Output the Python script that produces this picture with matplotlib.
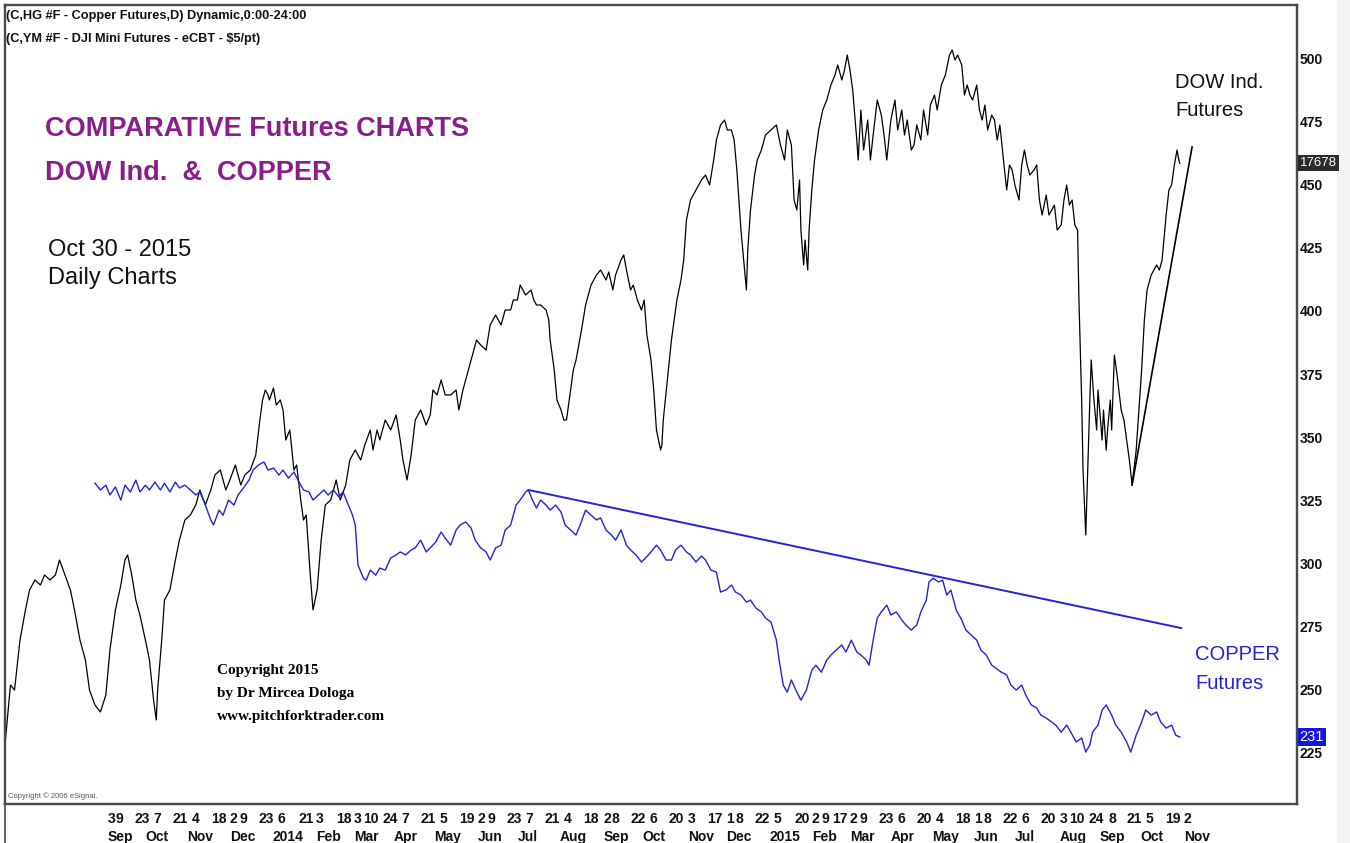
import matplotlib
matplotlib.use('Agg')
import matplotlib.pyplot as plt
import matplotlib.transforms as mtransforms
from matplotlib.patches import Rectangle
import pandas as pd

# ---- data ----
# DJI mini futures, daily (index points)
dow_dates = [
    '2013-06-20', '2013-06-24', '2013-06-27', '2013-07-01', '2013-07-05', '2013-07-08', '2013-07-12', '2013-07-16',
    '2013-07-19', '2013-07-23', '2013-07-27', '2013-07-30', '2013-08-03', '2013-08-07', '2013-08-10', '2013-08-14',
    '2013-08-18', '2013-08-21', '2013-08-25', '2013-08-29', '2013-09-02', '2013-09-05', '2013-09-09', '2013-09-13',
    '2013-09-16', '2013-09-18', '2013-09-21', '2013-09-24', '2013-09-27', '2013-10-01', '2013-10-04', '2013-10-07',
    '2013-10-09', '2013-10-10', '2013-10-13', '2013-10-15', '2013-10-19', '2013-10-23', '2013-10-26', '2013-10-30',
    '2013-11-03', '2013-11-07', '2013-11-10', '2013-11-14', '2013-11-18', '2013-11-21', '2013-11-25', '2013-11-29',
    '2013-12-02', '2013-12-06', '2013-12-10', '2013-12-13', '2013-12-17', '2013-12-21', '2013-12-24', '2013-12-26',
    '2013-12-28', '2013-12-30', '2013-12-31', '2014-01-03', '2014-01-05', '2014-01-08', '2014-01-10', '2014-01-12',
    '2014-01-15', '2014-01-18', '2014-01-20', '2014-01-23', '2014-01-25', '2014-01-27', '2014-01-30', '2014-02-01',
    '2014-02-04', '2014-02-07', '2014-02-10', '2014-02-14', '2014-02-18', '2014-02-21', '2014-02-25', '2014-02-28',
    '2014-03-04', '2014-03-08', '2014-03-11', '2014-03-15', '2014-03-17', '2014-03-20', '2014-03-22', '2014-03-26',
    '2014-03-30', '2014-04-03', '2014-04-06', '2014-04-08', '2014-04-11', '2014-04-14', '2014-04-17', '2014-04-21',
    '2014-04-25', '2014-04-28', '2014-04-30', '2014-05-03', '2014-05-06', '2014-05-09', '2014-05-13', '2014-05-17',
    '2014-05-19', '2014-05-22', '2014-05-25', '2014-05-28', '2014-05-30', '2014-06-01', '2014-06-04', '2014-06-08',
    '2014-06-11', '2014-06-15', '2014-06-19', '2014-06-22', '2014-06-26', '2014-06-28', '2014-07-01', '2014-07-03',
    '2014-07-07', '2014-07-11', '2014-07-13', '2014-07-15', '2014-07-18', '2014-07-22', '2014-07-24', '2014-07-25',
    '2014-07-28', '2014-07-30', '2014-08-02', '2014-08-04', '2014-08-06', '2014-08-08', '2014-08-11', '2014-08-13',
    '2014-08-15', '2014-08-17', '2014-08-20', '2014-08-24', '2014-08-28', '2014-08-31', '2014-09-04', '2014-09-06',
    '2014-09-09', '2014-09-11', '2014-09-15', '2014-09-17', '2014-09-19', '2014-09-22', '2014-09-24', '2014-09-27',
    '2014-09-30', '2014-10-02', '2014-10-04', '2014-10-07', '2014-10-09', '2014-10-11', '2014-10-14', '2014-10-15',
    '2014-10-16', '2014-10-19', '2014-10-22', '2014-10-24', '2014-10-26', '2014-10-29', '2014-10-31', '2014-11-02',
    '2014-11-05', '2014-11-09', '2014-11-13', '2014-11-16', '2014-11-19', '2014-11-22', '2014-11-24', '2014-11-27',
    '2014-11-30', '2014-12-02', '2014-12-05', '2014-12-07', '2014-12-09', '2014-12-12', '2014-12-14', '2014-12-16',
    '2014-12-17', '2014-12-19', '2014-12-22', '2014-12-24', '2014-12-27', '2014-12-30', '2015-01-03', '2015-01-07',
    '2015-01-10', '2015-01-13', '2015-01-15', '2015-01-18', '2015-01-20', '2015-01-22', '2015-01-24', '2015-01-25',
    '2015-01-27', '2015-01-28', '2015-01-30', '2015-01-31', '2015-02-02', '2015-02-04', '2015-02-07', '2015-02-10',
    '2015-02-13', '2015-02-16', '2015-02-19', '2015-02-21', '2015-02-24', '2015-02-26', '2015-02-28', '2015-03-02',
    '2015-03-04', '2015-03-07', '2015-03-08', '2015-03-10', '2015-03-12', '2015-03-15', '2015-03-17', '2015-03-19',
    '2015-03-22', '2015-03-25', '2015-03-27', '2015-03-29', '2015-04-01', '2015-04-04', '2015-04-06', '2015-04-09',
    '2015-04-11', '2015-04-13', '2015-04-16', '2015-04-18', '2015-04-20', '2015-04-23', '2015-04-25', '2015-04-28',
    '2015-04-30', '2015-05-03', '2015-05-05', '2015-05-08', '2015-05-11', '2015-05-14', '2015-05-16', '2015-05-18',
    '2015-05-20', '2015-05-23', '2015-05-25', '2015-05-27', '2015-05-29', '2015-05-31', '2015-06-03', '2015-06-05',
    '2015-06-07', '2015-06-09', '2015-06-11', '2015-06-14', '2015-06-16', '2015-06-18', '2015-06-20', '2015-06-23',
    '2015-06-25', '2015-06-27', '2015-06-29', '2015-07-01', '2015-07-04', '2015-07-06', '2015-07-08', '2015-07-10',
    '2015-07-12', '2015-07-15', '2015-07-17', '2015-07-19', '2015-07-21', '2015-07-24', '2015-07-26', '2015-07-28',
    '2015-07-30', '2015-08-01', '2015-08-04', '2015-08-06', '2015-08-08', '2015-08-10', '2015-08-12', '2015-08-14',
    '2015-08-16', '2015-08-17', '2015-08-19', '2015-08-20', '2015-08-22', '2015-08-23', '2015-08-25', '2015-08-26',
    '2015-08-28', '2015-08-30', '2015-08-31', '2015-09-03', '2015-09-04', '2015-09-06', '2015-09-07', '2015-09-09',
    '2015-09-10', '2015-09-12', '2015-09-14', '2015-09-17', '2015-09-19', '2015-09-21', '2015-09-23', '2015-09-25',
    '2015-09-28', '2015-09-30', '2015-10-02', '2015-10-04', '2015-10-06', '2015-10-09', '2015-10-11', '2015-10-13',
    '2015-10-15', '2015-10-17', '2015-10-20', '2015-10-22', '2015-10-24', '2015-10-26', '2015-10-28', '2015-10-29',
    '2015-10-30',
]
dow_values = [
    14770, 15070, 15045, 15295, 15445, 15545, 15595, 15570,
    15620, 15595, 15620, 15695, 15620, 15545, 15445, 15295,
    15195, 15045, 14970, 14935, 15020, 15245, 15445, 15570,
    15695, 15720, 15620, 15495, 15420, 15295, 15195, 14995,
    14895, 15045, 15295, 15495, 15545, 15695, 15795, 15895,
    15920, 15970, 16045, 15970, 16045, 16120, 16145, 16045,
    16095, 16170, 16070, 16120, 16145, 16220, 16395, 16495,
    16545, 16520, 16495, 16555, 16470, 16495, 16445, 16295,
    16345, 16145, 16170, 15995, 15895, 15920, 15620, 15445,
    15545, 15795, 15970, 15995, 16095, 15995, 16070, 16195,
    16245, 16195, 16270, 16345, 16245, 16345, 16295, 16395,
    16345, 16420, 16295, 16195, 16095, 16220, 16395, 16445,
    16370, 16420, 16545, 16520, 16595, 16520, 16520, 16545,
    16445, 16545, 16620, 16695, 16745, 16795, 16770, 16745,
    16870, 16920, 16870, 16945, 16945, 16995, 16995, 17070,
    17020, 17045, 16995, 16970, 16970, 16945, 16895, 16795,
    16645, 16495, 16445, 16395, 16395, 16495, 16645, 16695,
    16770, 16845, 16970, 17070, 17120, 17145, 17095, 17135,
    17045, 17120, 17195, 17220, 17145, 17045, 17070, 16995,
    16945, 16995, 16820, 16695, 16545, 16345, 16245, 16270,
    16395, 16595, 16795, 16895, 16995, 17095, 17195, 17395,
    17495, 17545, 17595, 17620, 17570, 17695, 17795, 17870,
    17895, 17845, 17845, 17795, 17645, 17345, 17195, 17045,
    17245, 17445, 17620, 17695, 17745, 17820, 17845, 17870,
    17770, 17695, 17845, 17770, 17495, 17445, 17595, 17345,
    17170, 17295, 17145, 17345, 17545, 17695, 17845, 17945,
    17995, 18070, 18120, 18170, 18095, 18145, 18220, 18145,
    18045, 17795, 17695, 17945, 17745, 17895, 17695, 17820,
    17995, 17920, 17820, 17695, 17895, 17995, 17845, 17945,
    17820, 17895, 17745, 17770, 17870, 17795, 17945, 17820,
    17970, 18020, 17945, 18070, 18120, 18220, 18245, 18195,
    18220, 18170, 18020, 18070, 18020, 17995, 18070, 17945,
    17895, 17970, 17845, 17920, 17895, 17795, 17870, 17670,
    17545, 17670, 17645, 17570, 17495, 17670, 17745, 17670,
    17620, 17645, 17670, 17495, 17420, 17520, 17420, 17445,
    17470, 17345, 17370, 17495, 17570, 17470, 17495, 17370,
    17345, 16995, 16495, 16145, 15820, 16045, 16495, 16695,
    16495, 16345, 16545, 16295, 16445, 16245, 16345, 16495,
    16345, 16720, 16620, 16445, 16395, 16295, 16195, 16070,
    16245, 16445, 16645, 16895, 17045, 17120, 17145, 17170,
    17145, 17195, 17420, 17545, 17570, 17670, 17745, 17705,
    17678,
]

# HG copper futures, daily (cents / lb)
copper_dates = [
    '2013-08-25', '2013-08-29', '2013-09-02', '2013-09-05', '2013-09-09', '2013-09-13', '2013-09-16', '2013-09-20',
    '2013-09-24', '2013-09-27', '2013-10-01', '2013-10-04', '2013-10-08', '2013-10-12', '2013-10-15', '2013-10-19',
    '2013-10-23', '2013-10-26', '2013-10-30', '2013-11-03', '2013-11-07', '2013-11-10', '2013-11-14', '2013-11-18',
    '2013-11-20', '2013-11-24', '2013-11-27', '2013-12-01', '2013-12-05', '2013-12-08', '2013-12-12', '2013-12-16',
    '2013-12-19', '2013-12-23', '2013-12-27', '2013-12-30', '2014-01-03', '2014-01-07', '2014-01-10', '2014-01-14',
    '2014-01-18', '2014-01-21', '2014-01-25', '2014-01-29', '2014-02-01', '2014-02-05', '2014-02-09', '2014-02-12',
    '2014-02-16', '2014-02-20', '2014-02-23', '2014-02-27', '2014-03-02', '2014-03-04', '2014-03-06', '2014-03-10',
    '2014-03-12', '2014-03-15', '2014-03-19', '2014-03-22', '2014-03-26', '2014-03-30', '2014-04-03', '2014-04-06',
    '2014-04-10', '2014-04-14', '2014-04-17', '2014-04-21', '2014-04-25', '2014-04-28', '2014-05-02', '2014-05-06',
    '2014-05-09', '2014-05-13', '2014-05-17', '2014-05-20', '2014-05-24', '2014-05-28', '2014-05-31', '2014-06-04',
    '2014-06-08', '2014-06-11', '2014-06-15', '2014-06-19', '2014-06-22', '2014-06-26', '2014-06-30', '2014-07-03',
    '2014-07-07', '2014-07-09', '2014-07-12', '2014-07-15', '2014-07-18', '2014-07-22', '2014-07-25', '2014-07-29',
    '2014-08-02', '2014-08-05', '2014-08-09', '2014-08-13', '2014-08-16', '2014-08-20', '2014-08-24', '2014-08-28',
    '2014-08-31', '2014-09-04', '2014-09-08', '2014-09-11', '2014-09-15', '2014-09-19', '2014-09-22', '2014-09-26',
    '2014-09-30', '2014-10-03', '2014-10-07', '2014-10-11', '2014-10-14', '2014-10-18', '2014-10-22', '2014-10-25',
    '2014-10-29', '2014-11-02', '2014-11-05', '2014-11-09', '2014-11-13', '2014-11-16', '2014-11-20', '2014-11-24',
    '2014-11-27', '2014-12-01', '2014-12-05', '2014-12-08', '2014-12-12', '2014-12-16', '2014-12-19', '2014-12-23',
    '2014-12-27', '2014-12-30', '2015-01-03', '2015-01-07', '2015-01-09', '2015-01-12', '2015-01-15', '2015-01-18',
    '2015-01-22', '2015-01-25', '2015-01-29', '2015-02-02', '2015-02-05', '2015-02-09', '2015-02-13', '2015-02-16',
    '2015-02-20', '2015-02-24', '2015-02-27', '2015-03-03', '2015-03-07', '2015-03-10', '2015-03-14', '2015-03-16',
    '2015-03-19', '2015-03-22', '2015-03-25', '2015-03-29', '2015-04-01', '2015-04-05', '2015-04-09', '2015-04-12',
    '2015-04-16', '2015-04-20', '2015-04-23', '2015-04-27', '2015-04-29', '2015-05-02', '2015-05-06', '2015-05-09',
    '2015-05-12', '2015-05-15', '2015-05-19', '2015-05-23', '2015-05-26', '2015-05-30', '2015-06-03', '2015-06-06',
    '2015-06-10', '2015-06-14', '2015-06-17', '2015-06-21', '2015-06-25', '2015-06-28', '2015-07-02', '2015-07-06',
    '2015-07-09', '2015-07-13', '2015-07-17', '2015-07-20', '2015-07-24', '2015-07-28', '2015-07-31', '2015-08-04',
    '2015-08-08', '2015-08-11', '2015-08-15', '2015-08-19', '2015-08-22', '2015-08-25', '2015-08-27', '2015-08-31',
    '2015-09-03', '2015-09-06', '2015-09-10', '2015-09-13', '2015-09-17', '2015-09-21', '2015-09-24', '2015-09-28',
    '2015-10-02', '2015-10-05', '2015-10-09', '2015-10-13', '2015-10-16', '2015-10-20', '2015-10-24', '2015-10-27',
    '2015-10-30',
]
copper_values = [
    331.7, 329.0, 330.9, 327.0, 330.2, 325.0, 330.9, 328.2,
    332.9, 328.2, 330.9, 329.0, 332.1, 329.0, 331.7, 328.2,
    332.1, 329.8, 330.9, 329.0, 327.0, 328.2, 323.0, 317.1,
    315.1, 321.0, 319.0, 325.0, 323.0, 327.0, 329.8, 332.9,
    336.9, 338.9, 340.1, 336.9, 337.7, 334.9, 336.9, 333.7,
    336.1, 332.9, 329.0, 328.2, 325.0, 327.0, 329.0, 327.0,
    329.0, 326.2, 328.2, 323.0, 319.0, 315.1, 299.2, 294.0,
    293.2, 297.2, 295.2, 298.0, 297.2, 302.0, 303.2, 304.4,
    303.2, 305.2, 306.0, 309.1, 304.4, 306.0, 308.3, 312.3,
    309.9, 307.1, 313.1, 315.1, 316.3, 313.9, 309.1, 306.0,
    304.4, 301.2, 306.0, 307.1, 313.1, 315.1, 323.0, 325.0,
    328.2, 329.0, 325.0, 321.8, 325.0, 323.0, 321.0, 323.0,
    320.2, 315.1, 313.1, 311.1, 315.1, 321.0, 319.0, 317.1,
    317.9, 313.1, 311.1, 309.1, 313.1, 307.1, 305.2, 303.2,
    300.4, 302.0, 304.4, 307.1, 305.2, 301.2, 301.2, 305.2,
    307.1, 304.4, 303.2, 300.4, 302.8, 301.2, 297.2, 296.4,
    288.5, 289.3, 291.3, 288.5, 287.3, 284.5, 285.3, 282.1,
    280.6, 278.2, 276.6, 269.4, 261.5, 251.6, 248.8, 253.6,
    248.8, 245.6, 249.6, 257.5, 259.5, 256.7, 261.5, 263.5,
    265.5, 267.5, 264.7, 269.4, 264.7, 263.5, 261.5, 259.5,
    269.4, 278.2, 280.6, 283.3, 279.4, 280.6, 277.4, 275.4,
    273.4, 275.4, 280.6, 285.3, 292.5, 294.0, 292.5, 293.2,
    287.3, 289.3, 281.3, 277.4, 273.4, 271.4, 269.4, 265.5,
    263.5, 259.5, 258.3, 256.7, 255.6, 251.6, 249.6, 251.6,
    247.6, 243.7, 242.5, 239.7, 238.5, 236.9, 235.7, 232.9,
    235.7, 232.9, 229.0, 230.6, 225.0, 227.8, 232.9, 235.7,
    241.7, 243.7, 239.7, 235.7, 232.9, 229.0, 225.0, 231.7,
    236.9, 241.7, 239.7, 240.9, 236.9, 234.5, 235.7, 231.7,
    231.0,
]

# hand-drawn trend lines (start, end)
dow_trend_dates = ['2015-09-25', '2015-11-08']
dow_trend_values = [16070, 17760]
copper_trend_dates = ['2014-07-09', '2015-10-31']
copper_trend_values = [329.0, 274.2]

# axis ticks
copper_ticks = [225, 250, 275, 300, 325, 350, 375, 400, 425, 450, 475, 500]
day_ticks = [
    '2013-09-03', '2013-09-09', '2013-09-23', '2013-10-07', '2013-10-21', '2013-11-04', '2013-11-18', '2013-12-02',
    '2013-12-09', '2013-12-23', '2014-01-06', '2014-01-21', '2014-02-03', '2014-02-18', '2014-03-03', '2014-03-10',
    '2014-03-24', '2014-04-07', '2014-04-21', '2014-05-05', '2014-05-19', '2014-06-02', '2014-06-09', '2014-06-23',
    '2014-07-07', '2014-07-21', '2014-08-04', '2014-08-18', '2014-09-02', '2014-09-08', '2014-09-22', '2014-10-06',
    '2014-10-20', '2014-11-03', '2014-11-17', '2014-12-01', '2014-12-08', '2014-12-22', '2015-01-05', '2015-01-20',
    '2015-02-02', '2015-02-09', '2015-02-17', '2015-03-02', '2015-03-09', '2015-03-23', '2015-04-06', '2015-04-20',
    '2015-05-04', '2015-05-18', '2015-06-01', '2015-06-08', '2015-06-22', '2015-07-06', '2015-07-20', '2015-08-03',
    '2015-08-10', '2015-08-24', '2015-09-08', '2015-09-21', '2015-10-05', '2015-10-19', '2015-11-02',
]
month_ticks = [
    '2013-09-03', '2013-10-01', '2013-11-01', '2013-12-02', '2014-01-02', '2014-02-03', '2014-03-03', '2014-04-01',
    '2014-05-01', '2014-06-02', '2014-07-01', '2014-08-01', '2014-09-02', '2014-10-01', '2014-11-03', '2014-12-01',
    '2015-01-02', '2015-02-02', '2015-03-02', '2015-04-01', '2015-05-01', '2015-06-01', '2015-07-01', '2015-08-03',
    '2015-09-01', '2015-10-01', '2015-11-02',
]
month_labels = ['Sep', 'Oct', 'Nov', 'Dec', '2014', 'Feb', 'Mar', 'Apr', 'May', 'Jun', 'Jul', 'Aug', 'Sep', 'Oct',
                'Nov', 'Dec', '2015', 'Feb', 'Mar', 'Apr', 'May', 'Jun', 'Jul', 'Aug', 'Sep', 'Oct', 'Nov']

plt.rcParams['font.family'] = ['Liberation Sans', 'DejaVu Sans']

W, H = 1350, 843
BLUE = '#2323d8'
PURPLE = '#8b1c8b'
INK = '#111111'


def px(x, y):
    # pixel position in the picture -> figure fraction
    return x / W, 1 - y / H


fig = plt.figure(figsize=(13.5, 8.43), dpi=100)
fig.patch.set_facecolor('white')
ax = fig.add_axes([5 / W, 1 - 804 / H, 1292 / W, 799 / H])
ax_dow = ax.twinx()

# Dow (hidden scale)
ax_dow.plot(pd.to_datetime(dow_dates), dow_values, color='black', lw=0.9)
ax_dow.plot(pd.to_datetime(dow_trend_dates), dow_trend_values, color='black', lw=1.2)
ax_dow.set_ylim(14475, 18470)
ax_dow.set_yticks([])

# Copper (right scale)
ax.plot(pd.to_datetime(copper_dates), copper_values, color=BLUE, lw=1.0)
ax.plot(pd.to_datetime(copper_trend_dates), copper_trend_values, color=BLUE, lw=1.4)
ax.set_ylim(204.4, 521.4)
ax.set_xlim(pd.Timestamp('2013-06-20'), pd.Timestamp('2016-01-24'))
ax.set_zorder(ax_dow.get_zorder() + 1)
ax.patch.set_visible(False)

ax.yaxis.tick_right()
ax.set_yticks(copper_ticks)
ax.tick_params(axis='y', length=0, pad=2, labelsize=10, labelcolor=INK)

ax.xaxis.remove_overlapping_locs = False
day_dt = pd.to_datetime(day_ticks)
ax.set_xticks(day_dt)
ax.set_xticklabels([str(d.day) for d in day_dt], ha='left')
ax.set_xticks(pd.to_datetime(month_ticks), minor=True)
ax.set_xticklabels(month_labels, minor=True, ha='left')
ax.tick_params(axis='x', which='major', length=0, pad=5.5, labelsize=10, labelcolor=INK)
ax.tick_params(axis='x', which='minor', length=0, pad=19, labelsize=10, labelcolor=INK)
for lab in ax.get_xticklabels(which='both') + ax.get_yticklabels():
    lab.set_fontweight('bold')

for a in (ax, ax_dow):
    for s in a.spines.values():
        s.set_color('#4a4a4a')
        s.set_linewidth(1.6)

# last-value boxes on the price scale
tr_dow = mtransforms.blended_transform_factory(ax.transAxes, ax_dow.transData)
ax.text(1.002, dow_values[-1], str(dow_values[-1]), transform=tr_dow, ha='left', va='center',
        fontsize=9.5, color='white', clip_on=False,
        bbox=dict(boxstyle='square,pad=0.15', fc='#2b2b2b', ec='none'))
tr_cu = mtransforms.blended_transform_factory(ax.transAxes, ax.transData)
ax.text(1.002, copper_values[-1], str(round(copper_values[-1])), transform=tr_cu, ha='left', va='center',
        fontsize=10.5, color='white', clip_on=False,
        bbox=dict(boxstyle='square,pad=0.12', fc='#1414e0', ec='none'))

# headers and notes
fig.text(*px(6, 19), '(C,HG #F - Copper Futures,D) Dynamic,0:00-24:00', fontsize=9.2, fontweight='bold', color=INK)
fig.text(*px(6, 42), '(C,YM #F - DJI Mini Futures - eCBT - $5/pt)', fontsize=9.2, fontweight='bold', color=INK)
fig.text(*px(45, 136), 'COMPARATIVE Futures CHARTS', fontsize=19.5, fontweight='bold', color=PURPLE)
fig.text(*px(45, 180), 'DOW Ind.  &  COPPER', fontsize=19.5, fontweight='bold', color=PURPLE)
fig.text(*px(48, 256), 'Oct 30 - 2015', fontsize=17, color=INK)
fig.text(*px(48, 284), 'Daily Charts', fontsize=17, color=INK)
fig.text(*px(1175, 88), 'DOW Ind.', fontsize=14.5, color=INK)
fig.text(*px(1175, 116), 'Futures', fontsize=14.5, color=INK)
fig.text(*px(1195, 660), 'COPPER', fontsize=14.5, color=BLUE)
fig.text(*px(1195, 689), 'Futures', fontsize=14.5, color=BLUE)

serif = ['Liberation Serif', 'DejaVu Serif']
fig.text(*px(217, 674), 'Copyright 2015', fontsize=11, fontweight='bold', family=serif)
fig.text(*px(217, 697), 'by Dr Mircea Dologa', fontsize=11, fontweight='bold', family=serif)
fig.text(*px(217, 720), 'www.pitchforktrader.com', fontsize=11, fontweight='bold', family=serif)
fig.text(*px(8, 798), 'Copyright \u00a9 2006 eSignal.', fontsize=5.5, color='#555555')

# frame line continuing under the date scale, grey strip at the far right
fig.add_artist(plt.Line2D([5 / W, 5 / W], [0, 1 - 804 / H], color='#4a4a4a', lw=1.2))
fig.add_artist(Rectangle((1337 / W, 0), 13 / W, 1, color='#f3f3f3', lw=0))

fig.savefig('out.png', dpi=100)
